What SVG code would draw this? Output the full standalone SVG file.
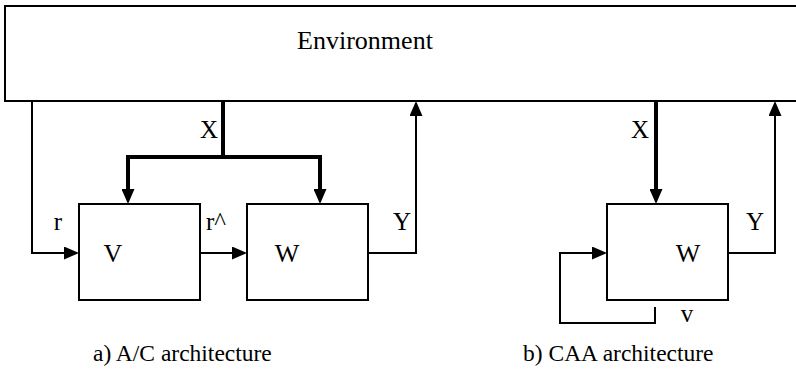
<svg xmlns="http://www.w3.org/2000/svg" width="796" height="385" viewBox="0 0 796 385">
  <defs>
    <style>
      .box { fill: #fff; stroke: #000; stroke-width: 2; }
      .thin { fill: none; stroke: #000; stroke-width: 2; }
      .thick { fill: none; stroke: #000; stroke-width: 4; }
      .t { font-family: "Liberation Serif", "DejaVu Serif", Times, serif; fill: #000; }
      .big { font-size: 26px; }
      .mid { font-size: 25px; }
      .cap { font-size: 23.5px; }
    </style>
    <marker id="ah" markerUnits="userSpaceOnUse" markerWidth="15" markerHeight="13" viewBox="0 0 15 13" refX="5" refY="6.5" orient="auto">
      <polygon points="0,0 15,6.5 0,13" fill="#000"/>
    </marker>
  </defs>

  <g id="environment">
    <rect class="box" x="5" y="6" width="800" height="95"/>
    <text class="t big" style="font-family:'Liberation Serif',serif" x="365" y="49" text-anchor="middle">Environment</text>
  </g>

  <g id="V">
    <rect class="box" x="79" y="204" width="121" height="96"/>
    <text class="t big" style="font-family:'Liberation Serif',serif" x="113" y="262" text-anchor="middle">V</text>
  </g>

  <g id="W1">
    <rect class="box" x="247" y="204" width="121" height="96"/>
    <text class="t big" style="font-family:'Liberation Serif',serif" x="287" y="262" text-anchor="middle">W</text>
  </g>

  <g id="W2">
    <rect class="box" x="607" y="204" width="121" height="96"/>
    <text class="t big" style="font-family:'Liberation Serif',serif" x="688" y="262" text-anchor="middle">W</text>
  </g>

  <g id="connectors">
    <polyline class="thin" points="32,101 32,253 69,253" marker-end="url(#ah)"/>
    <polyline class="thick" points="223,101 223,157"/>
    <polyline class="thick" points="223,157 128,157 128,194" marker-end="url(#ah)"/>
    <polyline class="thick" points="223,157 320,157 320,194" marker-end="url(#ah)"/>
    <polyline class="thin" points="200,253 237,253" marker-end="url(#ah)"/>
    <polyline class="thin" points="368,253 416,253 416,111" marker-end="url(#ah)"/>
    <polyline class="thick" points="656,101 656,194" marker-end="url(#ah)"/>
    <polyline class="thin" points="728,253 775,253 775,111" marker-end="url(#ah)"/>
    <polyline class="thin" points="655,307 655,323 560,323 560,253 597,253" marker-end="url(#ah)"/>
  </g>

  <g id="labels">
    <text class="t mid" style="font-family:'Liberation Serif',serif" x="209" y="138" text-anchor="middle">X</text>
    <text class="t mid" style="font-family:'Liberation Serif',serif" x="58" y="230" text-anchor="middle">r</text>
    <text class="t mid" style="font-family:'Liberation Serif',serif" x="216" y="230" text-anchor="middle">r^</text>
    <text class="t mid" style="font-family:'Liberation Serif',serif" x="402" y="230" text-anchor="middle">Y</text>
    <text class="t mid" style="font-family:'Liberation Serif',serif" x="640" y="138" text-anchor="middle">X</text>
    <text class="t mid" style="font-family:'Liberation Serif',serif" x="755" y="230" text-anchor="middle">Y</text>
    <text class="t mid" style="font-family:'Liberation Serif',serif" x="687" y="322" text-anchor="middle">v</text>
  </g>

  <g id="captions">
    <text class="t cap" style="font-family:'Liberation Serif',serif" x="93" y="361">a) A/C architecture</text>
    <text class="t cap" style="font-family:'Liberation Serif',serif" x="523" y="361">b) CAA architecture</text>
  </g>
</svg>
